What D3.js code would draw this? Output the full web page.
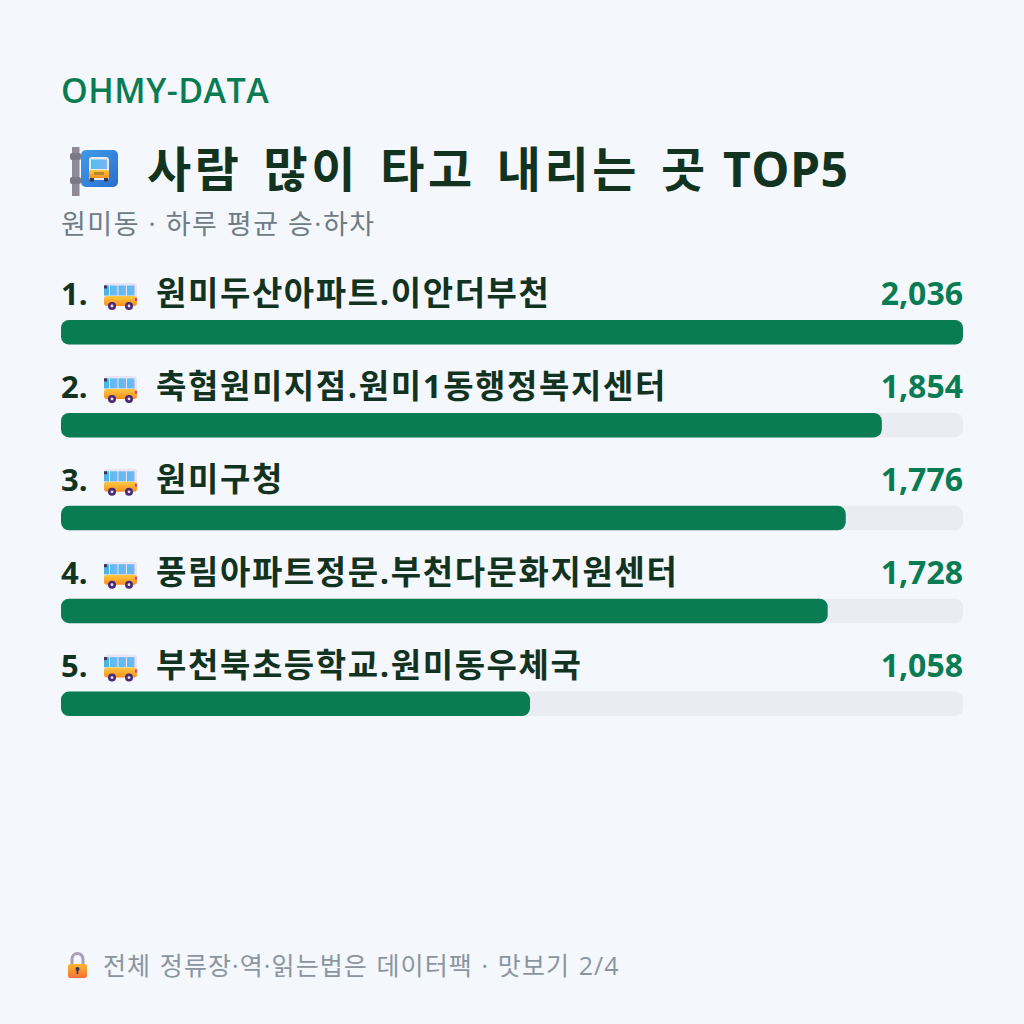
<!DOCTYPE html>
<html lang="ko"><head><meta charset="utf-8">
<script src="https://cdnjs.cloudflare.com/ajax/libs/d3/7.8.5/d3.min.js"></script>
<style>html,body{margin:0;padding:0;background:#f4f7fb}svg{display:block}</style>
</head><body><div id="chart"></div>
<script>
const brand = "OHMY-DATA";
const titleWords = "사람 많이 타고 내리는 곳 ";
const titleTail = "TOP5";
const subtitle = "원미동 · 하루 평균 승·하차";
const footnote = "전체 정류장·역·읽는법은 데이터팩 · 맛보기 2/4";
const stops = ["원미두산아파트.이안더부천","축협원미지점.원미1동행정복지센터","원미구청","풍림아파트정문.부천다문화지원센터","부천북초등학교.원미동우체국"];
const riders = [2036,1854,1776,1728,1058];
const ranks = [1,2,3,4,5];

const font = "'Open Sans','Noto Sans CJK KR',sans-serif";
const ink = "#12331f", green = "#0a7c53";
const svg = d3.select("#chart").append("svg").attr("width",1024).attr("height",1024);
svg.append("rect").attr("width",1024).attr("height",1024).attr("fill","#f4f7fb");

// Bars fill in whole percent of the top stop
const pct = d3.scaleLinear().domain([0,100]).range([61,963]);
const share = v => Math.round(v / d3.max(riders) * 100);
const y = d3.scaleBand().domain(ranks).range([320,320+92.9*5]);
const fmt = d3.format(",");

const text=(p,s,px,py,size,weight,fill,ls,anchor,ws)=>p.append("text").attr("x",px).attr("y",py)
  .attr("font-family",font).attr("font-size",size).attr("font-weight",weight).attr("fill",fill)
  .attr("letter-spacing",ls||0).attr("word-spacing",ws||0).attr("text-anchor",anchor||"start").attr("xml:space","preserve").text(s);

text(svg,brand,61,103,34,600,green,0.5);
const head=text(svg,titleWords,147,187,48,700,ink,3.6,"start",5);
head.append("tspan").attr("letter-spacing",0.5).attr("dx",-7).text(titleTail);
text(svg,subtitle,61,234,27,400,"#6f7c85",1.5);
text(svg,footnote,103,975,25,400,"#8b95a0",1.1,"start",1);

const defs=svg.append("defs");
const grad=(id,colors,x1,y1,x2,y2)=>{
  const g=defs.append("linearGradient").attr("id",id).attr("x1",x1).attr("y1",y1).attr("x2",x2).attr("y2",y2);
  colors.forEach(([o,c])=>g.append("stop").attr("offset",o).attr("stop-color",c));
};
grad("plate",[[0,"#3f9be8"],[1,"#2a6fd0"]],0,0,1,1);
grad("body",[[0,"#fdc93f"],[1,"#f58f22"]],0,0,0,1);
grad("glass",[[0,"#4fc0f0"],[1,"#7fb2f5"]],0,0,1,0);
grad("lockBody",[[0,"#fbb62e"],[1,"#f2703a"]],0,0,0,1);

// Bus-stop sign: pole, blue plate, front view of a bus
const sign=svg.append("g");
sign.append("rect").attr("x",72).attr("y",147).attr("width",7.5).attr("height",49).attr("fill","#8f8b96");
sign.append("rect").attr("x",70).attr("y",153).attr("width",11).attr("height",7).attr("rx",2).attr("fill","#7d7985");
sign.append("rect").attr("x",70).attr("y",177).attr("width",11).attr("height",7).attr("rx",2).attr("fill","#7d7985");
sign.append("rect").attr("x",81).attr("y",150).attr("width",37).attr("height",37).attr("rx",5).attr("fill","url(#plate)");
sign.append("rect").attr("x",89).attr("y",157).attr("width",20).attr("height",23).attr("rx",3).attr("fill","#e7eaf0");
sign.append("rect").attr("x",91).attr("y",159.5).attr("width",16).attr("height",9.5).attr("fill","url(#glass)");
sign.append("rect").attr("x",89).attr("y",170).attr("width",20).attr("height",8).attr("rx",1.5).attr("fill","url(#body)");
sign.append("rect").attr("x",94).attr("y",172).attr("width",10).attr("height",3).attr("fill","#b8862a");
[90,104].forEach(o=>sign.append("rect").attr("x",o).attr("y",178).attr("width",4).attr("height",3.5).attr("fill","#3c3550"));

// Side view of a bus beside each stop name
const drawBus=(g,bx,by)=>{
  g.append("rect").attr("x",bx).attr("y",by).attr("width",33).attr("height",22).attr("rx",3).attr("fill","#e8e4f4");
  g.append("rect").attr("x",bx).attr("y",by+13).attr("width",33).attr("height",10).attr("rx",3).attr("fill","url(#body)");
  [6,14.5,23].forEach(o=>g.append("rect").attr("x",bx+o).attr("y",by+2.5).attr("width",7.5).attr("height",10).attr("fill","url(#glass)"));
  g.append("rect").attr("x",bx).attr("y",by+2.5).attr("width",5).attr("height",10).attr("fill","#4fb3e8");
  g.append("rect").attr("x",bx).attr("y",by+2.5).attr("width",3).attr("height",3).attr("fill","#3c3550");
  g.append("rect").attr("x",bx+31).attr("y",by+15).attr("width",2).attr("height",3).attr("fill","#e0359a");
  [8,25].forEach(o=>{
    g.append("circle").attr("cx",bx+o).attr("cy",by+23).attr("r",4).attr("fill","#4a2a74");
    g.append("circle").attr("cx",bx+o).attr("cy",by+23).attr("r",1.4).attr("fill","#e8e4f4");
  });
};

const row=svg.selectAll("g.row").data(ranks).join("g").attr("class","row");
row.each(function(r,i){
  const g=d3.select(this), top=y(r);
  g.append("rect").attr("x",pct(0)).attr("y",top).attr("width",pct(100)-pct(0)).attr("height",24.5).attr("rx",8).attr("fill","#e9edf3");
  g.append("rect").attr("x",pct(0)).attr("y",top).attr("width",pct(share(riders[i]))-pct(0)).attr("height",24.5).attr("rx",8).attr("fill",green);
  text(g,r+".",61,top-15,31,700,ink,0);
  drawBus(g,104,top-37);
  text(g,stops[i],156,top-15,33,700,ink,1.6);
  text(g,fmt(riders[i]),963,top-15,32,700,green,0,"end");
});

// Padlock
const lock=svg.append("g");
lock.append("path").attr("d","M72 965v-6a5.500 5.500 0 0 1 11 0v6").attr("fill","none").attr("stroke","#a89fb5").attr("stroke-width",3);
lock.append("rect").attr("x",68).attr("y",964).attr("width",19).attr("height",14).attr("rx",2.5).attr("fill","url(#lockBody)");
lock.append("circle").attr("cx",77.5).attr("cy",969).attr("r",2).attr("fill","#3c3550");
lock.append("rect").attr("x",76.700).attr("y",969).attr("width",1.6).attr("height",5).attr("fill","#3c3550");
</script></body></html>
